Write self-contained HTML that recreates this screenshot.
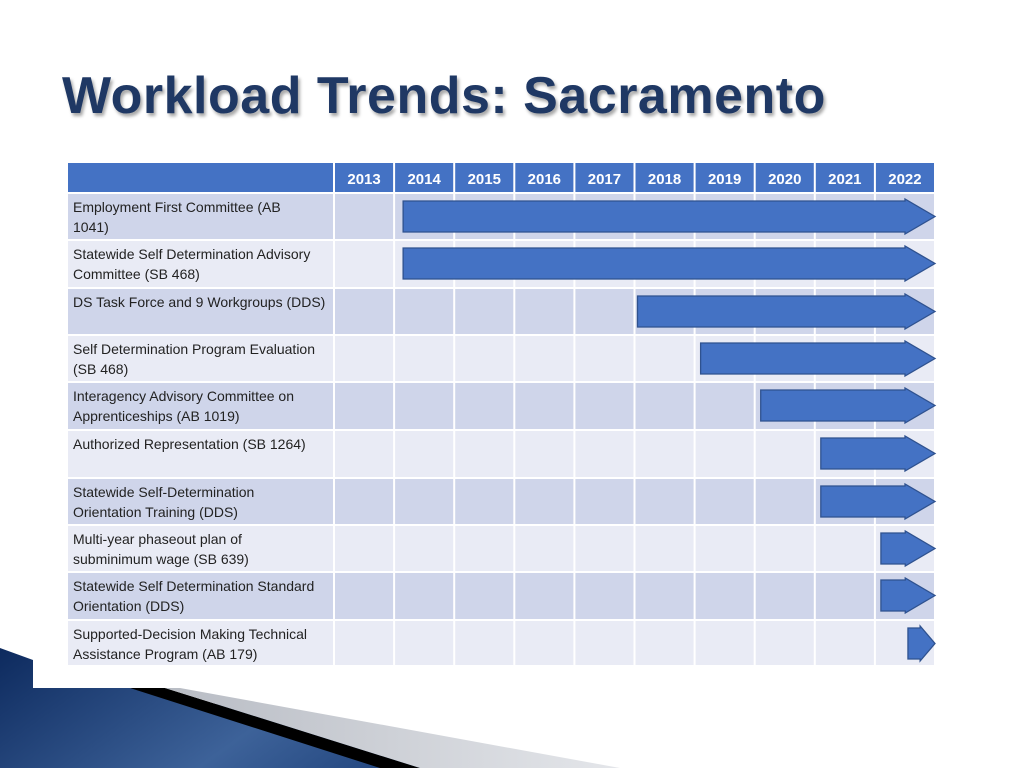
<!DOCTYPE html>
<html><head><meta charset="utf-8"><style>
body{margin:0;width:1024px;height:768px;background:#fff;overflow:hidden;position:relative;font-family:"Liberation Sans",sans-serif}
#title{position:absolute;left:62px;top:66px;font-size:52px;font-weight:bold;color:#1f3864;text-shadow:2px 3px 3px rgba(0,0,0,0.35);letter-spacing:0.5px;white-space:nowrap}
</style></head><body>
<svg width="1024" height="768" style="position:absolute;left:0;top:0">
<defs><linearGradient id="g" x1="0" y1="0" x2="1" y2="0.3"><stop offset="0" stop-color="#0d2a5e"/><stop offset="0.6" stop-color="#3d6299"/><stop offset="1" stop-color="#1c3f78"/></linearGradient>
<linearGradient id="gr" x1="0" y1="0" x2="1" y2="0"><stop offset="0" stop-color="#b8bcc4"/><stop offset="1" stop-color="#e4e6ea"/></linearGradient></defs>
<polygon points="0,648 33,660 33,688 130,688 560,768 0,768" fill="url(#g)"/>
<polygon points="130,688 165,688 420,768 380,768" fill="#000"/>
<polygon points="165,688 180,688 620,768 420,768" fill="url(#gr)"/>
</svg>
<div id="title">Workload Trends: Sacramento</div>
<svg id="chart" width="1024" height="768" style="position:absolute;left:0;top:0"></svg>
<script>
const years=["2013","2014","2015","2016","2017","2018","2019","2020","2021","2022"];
const tasks=[["Employment First Committee (AB","1041)"],["Statewide Self Determination Advisory","Committee (SB 468)"],["DS Task Force and 9 Workgroups (DDS)"],["Self Determination Program Evaluation","(SB 468)"],["Interagency Advisory Committee on","Apprenticeships (AB 1019)"],["Authorized Representation (SB 1264)"],["Statewide Self-Determination","Orientation Training (DDS)"],["Multi-year phaseout plan of","subminimum wage (SB 639)"],["Statewide Self Determination Standard","Orientation (DDS)"],["Supported-Decision Making Technical","Assistance Program (AB 179)"]];
const starts=[2014.15,2014.15,2018.05,2019.1,2020.1,2021.1,2021.1,2022.1,2022.1,2022.55];
const ends=[2023,2023,2023,2023,2023,2023,2023,2023,2023,2023];
const svg=document.getElementById('chart');const NS="http://www.w3.org/2000/svg";
const x0=334,cw=60.1,L=67,R=935,hy=163,hh=30;
const rowTops=[193,240,288,335,382,430,478,525,572,620,666];
const xs=y=>x0+(y-2013)*cw;
function mk(t,a){const e=document.createElementNS(NS,t);for(const k in a)e.setAttribute(k,a[k]);svg.appendChild(e);return e;}
let h=mk('rect',{x:L,y:hy,width:R-L,height:hh,fill:'#4472c4'});


years.forEach((yr,i)=>{const t=mk('text',{x:xs(2013+i)+cw/2,y:hy+21,fill:'#fff','font-size':'15','font-weight':'bold','text-anchor':'middle','font-family':'Liberation Sans, sans-serif'});t.textContent=yr;

});
tasks.forEach((lines,i)=>{const y=rowTops[i],hgt=rowTops[i+1]-y;
const r=mk('rect',{x:L,y:y,width:R-L,height:hgt,fill:i%2?'#e9ebf5':'#cfd5ea'});


lines.forEach((ln,j)=>{const t=mk('text',{x:73,y:y+19+j*20,fill:'#222','font-size':'14','font-family':'Liberation Sans, sans-serif'});t.textContent=ln;

});});
for(let i=0;i<=10;i++){const l=mk('line',{x1:xs(2013+i),x2:xs(2013+i),y1:hy,y2:666,stroke:'#fff','stroke-width':2});

}
for(let i=0;i<=10;i++){const l=mk('line',{x1:L,x2:R,y1:rowTops[i],y2:rowTops[i],stroke:'#fff','stroke-width':2});

}
mk('line',{x1:L,x2:L,y1:hy,y2:666,stroke:'#fff','stroke-width':2});
starts.forEach((s,i)=>{const y=rowTops[i]+8,b=y+31,m=(y+b)/2,a=xs(s),e=xs(ends[i]),hw=Math.min(30,(e-a)*0.55);
const p=mk('polygon',{points:`${a},${y} ${e-hw},${y} ${e-hw},${y-2} ${e},${m} ${e-hw},${b+2} ${e-hw},${b} ${a},${b}`,fill:'#4472c4',stroke:'#2f528f','stroke-width':1.3});

});
</script>
</body></html>
